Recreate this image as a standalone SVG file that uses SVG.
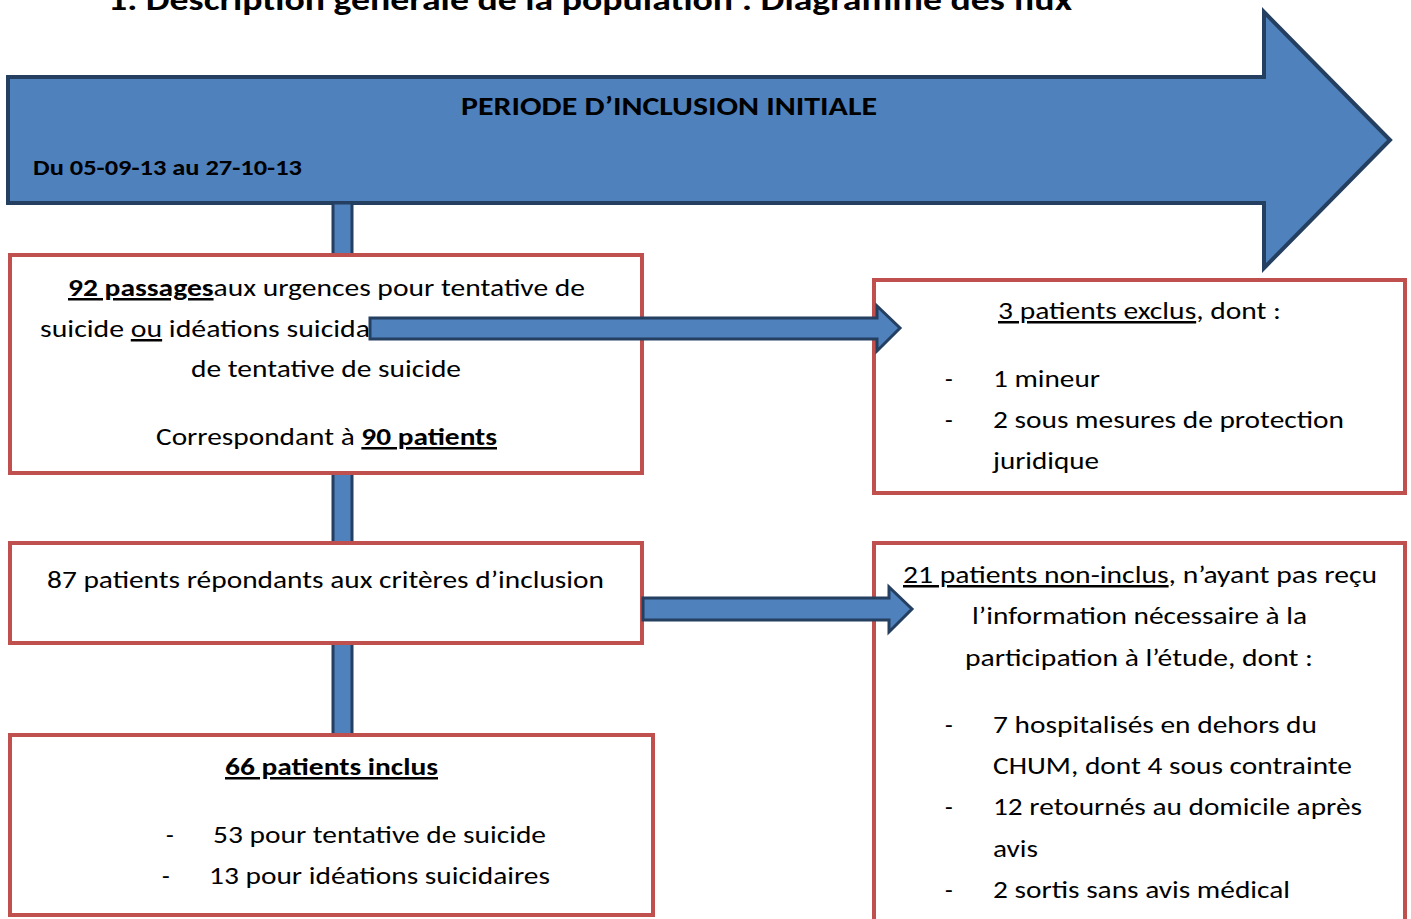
<svg xmlns="http://www.w3.org/2000/svg" width="1411" height="919" viewBox="0 0 1411 919">
<style>
  text { font-family: Carlito, Lato, "Liberation Sans", sans-serif; fill: #000; }
  .t { font-size: 25px; }
  .b { font-weight: bold; }
  .u { text-decoration: underline; }
  .box { fill: #fff; stroke: #c0504d; stroke-width: 4; }
  .arr { fill: #4f81bd; stroke: #243f60; stroke-width: 3; stroke-linejoin: miter; }
</style>
<rect x="0" y="0" width="1411" height="919" fill="#fff"/>
<text x="108" y="10" font-size="30" class="b" textLength="964" lengthAdjust="spacingAndGlyphs">1.  Description générale de la population : Diagramme des flux</text>

<g id="periode">
  <polygon points="8,77 1264,77 1264,12 1390,140 1264,268 1264,203 8,203" fill="#4f81bd" stroke="#243f60" stroke-width="4" stroke-linejoin="miter"/>
  <text x="461" y="115" font-size="26" class="b" textLength="416" lengthAdjust="spacingAndGlyphs">PERIODE D’INCLUSION INITIALE</text>
  <text x="33" y="175" font-size="22" class="b" textLength="269" lengthAdjust="spacingAndGlyphs">Du 05-09-13 au 27-10-13</text>
</g>

<g id="connectors">
  <rect class="arr" x="333" y="203" width="19" height="532"/>
</g>

<g id="passages">
  <rect class="box" x="10" y="255" width="632" height="218"/>
  <text class="t" x="68" y="296" textLength="517" lengthAdjust="spacingAndGlyphs"><tspan class="b u">92 passages</tspan>aux urgences pour tentative de</text>
  <text class="t" x="40" y="337" textLength="330" lengthAdjust="spacingAndGlyphs">suicide <tspan class="u">ou</tspan> idéations suicida</text>
  <text class="t" x="191" y="377" textLength="270" lengthAdjust="spacingAndGlyphs">de tentative de suicide</text>
  <text class="t" x="156" y="445" textLength="341" lengthAdjust="spacingAndGlyphs">Correspondant à <tspan class="b u">90 patients</tspan></text>
</g>

<g id="exclus">
  <rect class="box" x="874" y="280" width="531" height="213"/>
  <text class="t" x="998" y="319" textLength="283" lengthAdjust="spacingAndGlyphs"><tspan class="u">3 patients exclus</tspan>, dont :</text>
  <text class="t" x="945" y="387">-</text>
  <text class="t" x="993" y="387" textLength="107" lengthAdjust="spacingAndGlyphs">1 mineur</text>
  <text class="t" x="945" y="428">-</text>
  <text class="t" x="993" y="428" textLength="351" lengthAdjust="spacingAndGlyphs">2 sous mesures de protection</text>
  <text class="t" x="993" y="469" textLength="106" lengthAdjust="spacingAndGlyphs">juridique</text>
</g>

<g id="criteres">
  <rect class="box" x="10" y="543" width="632" height="100"/>
  <text class="t" x="47" y="588" textLength="557" lengthAdjust="spacingAndGlyphs">87 patients répondants aux critères d’inclusion</text>
</g>

<g id="inclus">
  <rect class="box" x="10" y="735" width="643" height="180"/>
  <text class="t b u" x="225" y="775" textLength="213" lengthAdjust="spacingAndGlyphs">66 patients inclus</text>
  <text class="t" x="166" y="843">-</text>
  <text class="t" x="213" y="843" textLength="333" lengthAdjust="spacingAndGlyphs">53 pour tentative de suicide</text>
  <text class="t" x="162" y="884">-</text>
  <text class="t" x="209" y="884" textLength="341" lengthAdjust="spacingAndGlyphs">13 pour idéations suicidaires</text>
</g>

<g id="noninclus">
  <rect class="box" x="874" y="543" width="531" height="390"/>
  <text class="t" x="903" y="583" textLength="474" lengthAdjust="spacingAndGlyphs"><tspan class="u">21 patients non-inclus</tspan>, n’ayant pas reçu</text>
  <text class="t" x="972" y="624" textLength="335" lengthAdjust="spacingAndGlyphs">l’information nécessaire à la</text>
  <text class="t" x="965" y="666" textLength="348" lengthAdjust="spacingAndGlyphs">participation à l’étude, dont :</text>
  <text class="t" x="945" y="733">-</text>
  <text class="t" x="993" y="733" textLength="324" lengthAdjust="spacingAndGlyphs">7 hospitalisés en dehors du</text>
  <text class="t" x="993" y="774" textLength="359" lengthAdjust="spacingAndGlyphs">CHUM, dont 4 sous contrainte</text>
  <text class="t" x="945" y="815">-</text>
  <text class="t" x="993" y="815" textLength="369" lengthAdjust="spacingAndGlyphs">12 retournés au domicile après</text>
  <text class="t" x="993" y="857" textLength="45" lengthAdjust="spacingAndGlyphs">avis</text>
  <text class="t" x="945" y="898">-</text>
  <text class="t" x="993" y="898" textLength="297" lengthAdjust="spacingAndGlyphs">2 sortis sans avis médical</text>
</g>

<g id="arrows">
  <polygon class="arr" points="370,318 877,318 877,306 900,328 877,351 877,339 370,339"/>
  <polygon class="arr" points="643,598 889,598 889,587 912,609 889,632 889,620 643,620"/>
</g>
</svg>
